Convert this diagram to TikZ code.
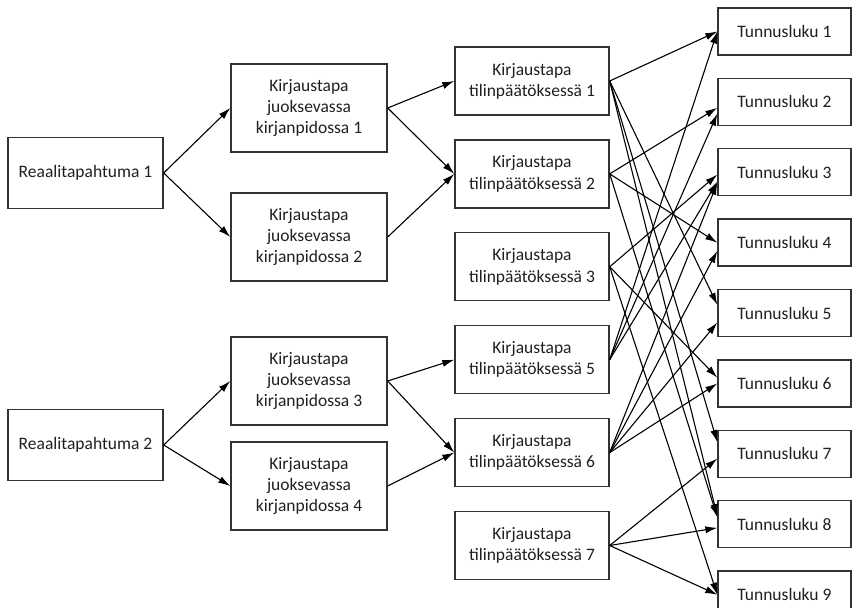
\documentclass[tikz,border=0pt]{standalone}
\usepackage{fontspec}
\setmainfont{Carlito}
\usepackage{tikz}
\usetikzlibrary{arrows.meta,positioning}
\definecolor{kpEdge}{HTML}{333333}
\definecolor{kpText}{HTML}{231F20}
\tikzset{
  kp/.style={draw=kpEdge,line width=0.7pt,fill=white,text=kpText,align=center,inner sep=2pt,
             font=\fontsize{8.75}{10.6}\selectfont},
  kpevent/.style={kp,minimum width=77.5pt,minimum height=35.5pt},
  kpbook/.style={kp,minimum width=78pt,minimum height=44pt},
  kpstmt/.style={kp,minimum width=77pt,minimum height=34pt},
  kpratio/.style={kp,minimum width=66.5pt,minimum height=23.5pt},
  kpflow/.style={-{Latex[length=6pt,width=3.6pt]},draw=black,line width=0.55pt},
}
\begin{document}
\begin{tikzpicture}[x=0.5pt,y=-0.5pt,node distance=11.75pt]
  \useasboundingbox (0,0) rectangle (868,608);

  % reaalitapahtumat
  \node[kpevent] (RT1) at (85.5,173) {Reaalitapahtuma 1};
  \node[kpevent] (RT2) at (85.5,445) {Reaalitapahtuma 2};

  % juokseva kirjanpito
  \node[kpbook] (KJ1) at (309,108) {Kirjaustapa\\juoksevassa\\kirjanpidossa 1};
  \node[kpbook] (KJ2) at (309,237) {Kirjaustapa\\juoksevassa\\kirjanpidossa 2};
  \node[kpbook] (KJ3) at (309,381) {Kirjaustapa\\juoksevassa\\kirjanpidossa 3};
  \node[kpbook] (KJ4) at (309,486) {Kirjaustapa\\juoksevassa\\kirjanpidossa 4};

  % tilinpaatos
  \node[kpstmt] (TP1) at (532,81) {Kirjaustapa\\tilinpäätöksessä 1};
  \node[kpstmt,below=of TP1] (TP2) {Kirjaustapa\\tilinpäätöksessä 2};
  \node[kpstmt,below=of TP2] (TP3) {Kirjaustapa\\tilinpäätöksessä 3};
  \node[kpstmt,below=of TP3] (TP5) {Kirjaustapa\\tilinpäätöksessä 5};
  \node[kpstmt,below=of TP5] (TP6) {Kirjaustapa\\tilinpäätöksessä 6};
  \node[kpstmt,below=of TP6] (TP7) {Kirjaustapa\\tilinpäätöksessä 7};

  % tunnusluvut
  \node[kpratio] (TL1) at (784.5,31.5) {Tunnusluku 1};
  \node[kpratio,below=11pt of TL1] (TL2) {Tunnusluku 2};
  \node[kpratio,below=11pt of TL2] (TL3) {Tunnusluku 3};
  \node[kpratio,below=11pt of TL3] (TL4) {Tunnusluku 4};
  \node[kpratio,below=11pt of TL4] (TL5) {Tunnusluku 5};
  \node[kpratio,below=11pt of TL5] (TL6) {Tunnusluku 6};
  \node[kpratio,below=11pt of TL6] (TL7) {Tunnusluku 7};
  \node[kpratio,below=11pt of TL7] (TL8) {Tunnusluku 8};
  \node[kpratio,below=11pt of TL8] (TL9) {Tunnusluku 9};

  \foreach \a/\b in {RT1/KJ1,RT1/KJ2,KJ1/TP1,KJ1/TP2,KJ2/TP2,RT2/KJ3,RT2/KJ4,KJ3/TP5,KJ3/TP6,KJ4/TP6}{\draw[kpflow] (\a.east)--(\b.west);}
  \foreach \a/\b in {TP1/TL1.west,TP1/TL5.173,TP1/TL7.170,TP1/TL8.173,
                     TP2/TL2.185,TP2/TL4.west,TP2/TL8.174,
                     TP3/TL3.182,TP3/TL6.175,TP3/TL9.west,
                     TP5/TL1.west,TP5/TL2.190,TP5/TL3.188,
                     TP6/TL3.189,TP6/TL4.187,TP6/TL5.188,TP6/TL6.west,
                     TP7/TL7.184,TP7/TL8.183,TP7/TL9.west}{\draw[kpflow] (\a.east)--(\b);}
\end{tikzpicture}
\end{document}
